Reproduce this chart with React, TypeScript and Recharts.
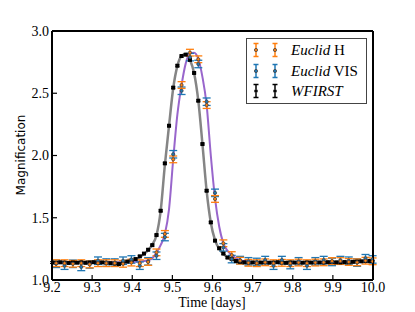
import React from 'react'
import { ComposedChart, Line, Scatter, XAxis, YAxis, ErrorBar } from 'recharts'

// WFIRST cadence (15 min) and model curves sampled on it
const wfTimes = [
  9.2, 9.2104, 9.2208, 9.2313, 9.2417, 9.2521, 9.2625, 9.2729, 9.2833, 9.2938,
  9.3042, 9.3146, 9.325, 9.3354, 9.3458, 9.3563, 9.3667, 9.3771, 9.3875, 9.3979,
  9.4083, 9.4188, 9.4292, 9.4396, 9.45, 9.4604, 9.4708, 9.4813, 9.4917, 9.5021,
  9.5125, 9.5229, 9.5333, 9.5438, 9.5542, 9.5646, 9.575, 9.5854, 9.5958, 9.6063,
  9.6167, 9.6271, 9.6375, 9.6479, 9.6583, 9.6688, 9.6792, 9.6896, 9.7, 9.7104,
  9.7208, 9.7313, 9.7417, 9.7521, 9.7625, 9.7729, 9.7833, 9.7938, 9.8042, 9.8146,
  9.825, 9.8354, 9.8458, 9.8563, 9.8667, 9.8771, 9.8875, 9.8979, 9.9083, 9.9188,
  9.9292, 9.9396, 9.95, 9.9604, 9.9708, 9.9813, 9.9917, 10.0,
]

const wfirst = [
  1.14, 1.138, 1.142, 1.14, 1.137, 1.141, 1.139, 1.142, 1.138, 1.14,
  1.143, 1.139, 1.141, 1.138, 1.135, 1.132, 1.128, 1.136, 1.148, 1.155,
  1.168, 1.19, 1.212, 1.243, 1.28, 1.361, 1.556, 1.937, 2.239, 2.545,
  2.721, 2.799, 2.81, 2.768, 2.663, 2.44, 2.092, 1.717, 1.463, 1.316,
  1.255, 1.212, 1.18, 1.168, 1.152, 1.146, 1.142, 1.14, 1.141, 1.138,
  1.14, 1.142, 1.139, 1.14, 1.143, 1.14, 1.138, 1.141, 1.14, 1.142,
  1.139, 1.141, 1.14, 1.143, 1.141, 1.14, 1.143, 1.145, 1.142, 1.141,
  1.144, 1.143, 1.146, 1.148, 1.15, 1.152, 1.153, 1.152,
]

const wfModel = [
  1.14, 1.14, 1.14, 1.14, 1.14, 1.14, 1.14, 1.14, 1.14, 1.14,
  1.14, 1.14, 1.14, 1.14, 1.141, 1.142, 1.144, 1.147, 1.151, 1.157,
  1.166, 1.185, 1.208, 1.24, 1.285, 1.36, 1.555, 1.925, 2.24, 2.54,
  2.72, 2.8, 2.815, 2.77, 2.66, 2.44, 2.09, 1.715, 1.46, 1.32,
  1.25, 1.21, 1.183, 1.166, 1.155, 1.148, 1.145, 1.143, 1.142, 1.141,
  1.14, 1.14, 1.14, 1.14, 1.14, 1.14, 1.14, 1.14, 1.14, 1.14,
  1.14, 1.14, 1.14, 1.14, 1.141, 1.141, 1.142, 1.142, 1.143, 1.143,
  1.144, 1.144, 1.145, 1.146, 1.147, 1.148, 1.149, 1.15,
]

const euclidModel = [
  1.14, 1.14, 1.14, 1.14, 1.14, 1.14, 1.14, 1.14, 1.14, 1.14,
  1.14, 1.14, 1.14, 1.14, 1.14, 1.14, 1.14, 1.141, 1.142, 1.144,
  1.146, 1.148, 1.152, 1.158, 1.175, 1.22, 1.28, 1.37, 1.57, 1.97,
  2.33, 2.566, 2.74, 2.82, 2.825, 2.775, 2.63, 2.405, 2.0, 1.655,
  1.43, 1.295, 1.235, 1.2, 1.176, 1.16, 1.152, 1.147, 1.144, 1.142,
  1.14, 1.14, 1.14, 1.14, 1.14, 1.14, 1.14, 1.14, 1.14, 1.14,
  1.14, 1.14, 1.14, 1.14, 1.141, 1.141, 1.142, 1.142, 1.143, 1.143,
  1.144, 1.144, 1.145, 1.146, 1.147, 1.148, 1.149, 1.15,
]

// Euclid cadence (30 min)
const euTimes = [
  9.2104, 9.2313, 9.2521, 9.2729, 9.2938, 9.3146, 9.3354, 9.3563, 9.3771, 9.3979,
  9.4188, 9.4396, 9.4604, 9.4813, 9.5021, 9.5229, 9.5438, 9.5646, 9.5854, 9.6063,
  9.6271, 9.6479, 9.6688, 9.6896, 9.7104, 9.7313, 9.7521, 9.7729, 9.7938, 9.8146,
  9.8354, 9.8563, 9.8771, 9.8979, 9.9188, 9.9396, 9.9604, 9.9813, 9.999,
]

const euclidH = [
  1.135, 1.135, 1.13, 1.135, 1.125, 1.135, 1.135, 1.135, 1.13, 1.14,
  1.135, 1.145, 1.222, 1.37, 1.969, 2.566, 2.826, 2.773, 2.405, 1.651,
  1.295, 1.2, 1.155, 1.138, 1.135, 1.142, 1.135, 1.138, 1.135, 1.14,
  1.135, 1.14, 1.142, 1.152, 1.152, 1.145, 1.142, 1.155, 1.15,
]

const euclidVIS = [
  1.13, 1.115, 1.13, 1.105, 1.125, 1.155, 1.14, 1.14, 1.155, 1.165,
  1.115, 1.15, 1.195, 1.345, 2.01, 2.52, 2.79, 2.735, 2.432, 1.7,
  1.262, 1.168, 1.16, 1.15, 1.145, 1.16, 1.115, 1.16, 1.12, 1.15,
  1.115, 1.15, 1.16, 1.145, 1.16, 1.155, 1.14, 1.175, 1.165,
]

const H_ERR = 0.027
const VIS_ERR = 0.03
const WF_ERR = 0.007

const xTicks = [9.2, 9.3, 9.4, 9.5, 9.6, 9.7, 9.8, 9.9, 10.0]
const yTicks = [1.0, 1.5, 2.0, 2.5, 3.0]

const ORANGE = '#ff7f0e'
const BLUE = '#1f77b4'
const GREY = '#858585'
const PURPLE = '#9966cc'
const SERIF = '"Liberation Serif", "Times New Roman", serif'

const wfData = wfTimes.map((t, i) => ({ t, v: wfirst[i], err: WF_ERR }))
const wfModelData = wfTimes.map((t, i) => ({ t, v: wfModel[i] }))
const euModelData = wfTimes.map((t, i) => ({ t, v: euclidModel[i] }))
const hData = euTimes.map((t, i) => ({ t, v: euclidH[i], err: H_ERR }))
const visData = euTimes.map((t, i) => ({ t, v: euclidVIS[i], err: VIS_ERR }))

const squareShape = (p: any) => (
  <rect x={p.cx - 2} y={p.cy - 2} width={4} height={4} fill="#000" />
)
const dotShape = (fill: string) => (p: any) => (
  <circle cx={p.cx} cy={p.cy} r={1.6} fill={fill} stroke="#444" strokeWidth={0.8} />
)

const tickStyle = { fontFamily: SERIF, fontSize: 14, fill: '#000' }
const axisLine = { stroke: '#000', strokeWidth: 2 }
const tickLine = { stroke: '#000', strokeWidth: 1.2 }

function LegendMark({ color, dot }: { color: string; dot: string }) {
  return (
    <svg width={8} height={16} style={{ display: 'block' }}>
      <line x1={4} y1={1.5} x2={4} y2={14.5} stroke={color} strokeWidth={1.5} />
      <line x1={1.5} y1={1.5} x2={6.5} y2={1.5} stroke={color} strokeWidth={1.5} />
      <line x1={1.5} y1={14.5} x2={6.5} y2={14.5} stroke={color} strokeWidth={1.5} />
      <circle cx={4} cy={8} r={1.6} fill={dot} stroke="#444" strokeWidth={0.8} />
    </svg>
  )
}

const legendRows = [
  { color: ORANGE, dot: ORANGE, italic: 'Euclid', plain: ' H' },
  { color: BLUE, dot: BLUE, italic: 'Euclid', plain: ' VIS' },
  { color: '#000', dot: '#000', italic: 'WFIRST', plain: '' },
]

export default function App() {
  return (
    <div style={{ position: 'absolute', left: 0, top: 0, width: 415, height: 312, background: '#fff' }}>
      <ComposedChart width={415} height={312} margin={{ top: 30, right: 41, bottom: 31, left: 51 }}>
        <XAxis
          dataKey="t"
          type="number"
          domain={[9.2, 10]}
          allowDataOverflow
          ticks={xTicks}
          interval={0}
          tickFormatter={(v: number) => v.toFixed(1)}
          height={1}
          tickSize={-5}
          tickMargin={7}
          axisLine={axisLine}
          tickLine={tickLine}
          tick={tickStyle}
        />
        <XAxis
          xAxisId="top"
          orientation="top"
          type="number"
          domain={[9.2, 10]}
          allowDataOverflow
          ticks={xTicks}
          interval={0}
          height={1}
          tickSize={-5}
          axisLine={axisLine}
          tickLine={tickLine}
          tick={false}
        />
        <YAxis
          type="number"
          domain={[1, 3]}
          allowDataOverflow
          ticks={yTicks}
          interval={0}
          tickFormatter={(v: number) => v.toFixed(1)}
          width={1}
          tickSize={-5}
          tickMargin={8}
          axisLine={axisLine}
          tickLine={tickLine}
          tick={tickStyle}
        />
        <YAxis
          yAxisId="right"
          orientation="right"
          type="number"
          domain={[1, 3]}
          allowDataOverflow
          ticks={yTicks}
          interval={0}
          width={1}
          tickSize={-5}
          axisLine={axisLine}
          tickLine={tickLine}
          tick={false}
        />
        <Line data={wfModelData} dataKey="v" type="monotone" stroke={GREY} strokeWidth={2.5} dot={false} isAnimationActive={false} />
        <Line data={euModelData} dataKey="v" type="monotone" stroke={PURPLE} strokeWidth={2} dot={false} isAnimationActive={false} />
        <Scatter data={wfData} dataKey="v" shape={squareShape} isAnimationActive={false}>
          <ErrorBar dataKey="err" direction="y" width={2} stroke="#000" strokeWidth={1} />
        </Scatter>
        <Scatter data={visData} dataKey="v" shape={dotShape(BLUE)} isAnimationActive={false}>
          <ErrorBar dataKey="err" direction="y" width={4} stroke={BLUE} strokeWidth={1.3} />
        </Scatter>
        <Scatter data={hData} dataKey="v" shape={dotShape(ORANGE)} isAnimationActive={false}>
          <ErrorBar dataKey="err" direction="y" width={4} stroke={ORANGE} strokeWidth={1.3} />
        </Scatter>
      </ComposedChart>

      <div
        style={{
          position: 'absolute',
          left: 21,
          top: 155,
          transform: 'translate(-50%, -50%) rotate(-90deg)',
          fontFamily: '"DejaVu Sans", sans-serif',
          fontSize: 12,
          whiteSpace: 'nowrap',
          color: '#000',
        }}
      >
        Magnification
      </div>
      <div
        style={{
          position: 'absolute',
          left: 212,
          top: 303,
          transform: 'translate(-50%, -50%)',
          fontFamily: SERIF,
          fontSize: 14,
          whiteSpace: 'nowrap',
          color: '#000',
        }}
      >
        Time [days]
      </div>

      <div
        style={{
          position: 'absolute',
          left: 246,
          top: 38,
          width: 119,
          height: 64,
          border: '1px solid #444',
          background: '#fff',
        }}
      >
        {legendRows.map((r, i) => (
          <div key={i} style={{ position: 'absolute', left: 0, top: 3 + i * 20.5, height: 16, display: 'flex', alignItems: 'center' }}>
            <div style={{ position: 'absolute', left: 5 }}>
              <LegendMark color={r.color} dot={r.dot} />
            </div>
            <div style={{ position: 'absolute', left: 24 }}>
              <LegendMark color={r.color} dot={r.dot} />
            </div>
            <div
              style={{
                position: 'absolute',
                left: 44,
                top: -1,
                fontFamily: SERIF,
                fontSize: 15,
                whiteSpace: 'nowrap',
                lineHeight: '18px',
                color: '#000',
              }}
            >
              <i>{r.italic}</i>
              {r.plain}
            </div>
          </div>
        ))}
      </div>
    </div>
  )
}
